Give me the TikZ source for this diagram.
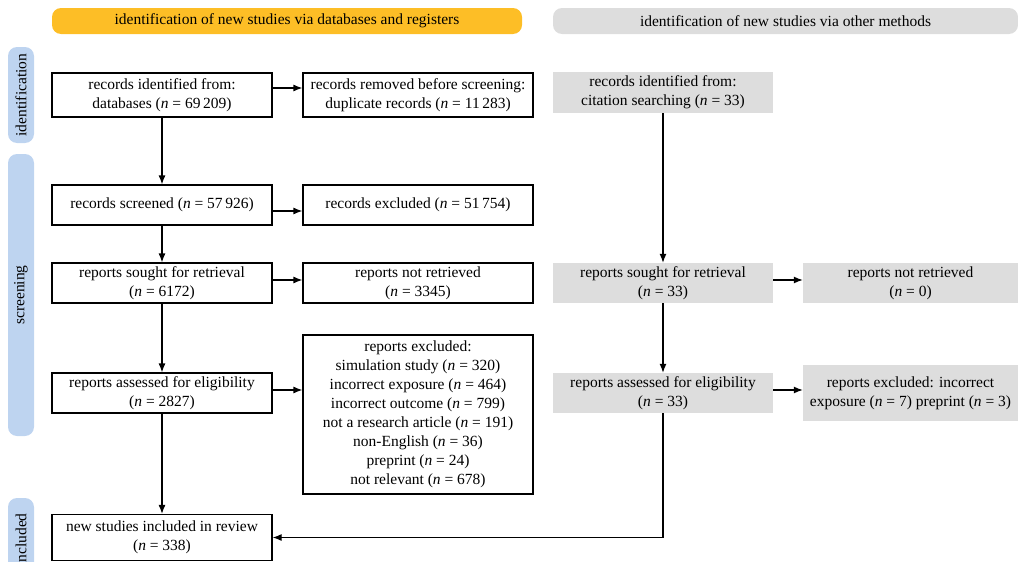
\documentclass[tikz,border=0pt]{standalone}
\usepackage{fontspec}
\setmainfont{Liberation Serif}
\usepackage{tikz}
\usetikzlibrary{arrows.meta}
\definecolor{dbyellow}{RGB}{253,190,38}
\definecolor{othgrey}{RGB}{221,221,221}
\definecolor{sideblue}{RGB}{190,212,240}
\newcommand{\nval}[1]{(\textit{n} = #1)}

\begin{document}
\begin{tikzpicture}[x=1pt, y=-1pt, font=\fontsize{15.5}{19}\selectfont,
  box/.style={draw, line width=1.2pt, align=center, inner sep=0pt},
  gbox/.style={fill=othgrey, align=center, inner sep=0pt},
  banner/.style={rounded corners=9pt, minimum height=26, inner sep=0pt},
  sidebar/.style={fill=sideblue, rounded corners=9pt, rotate=90, minimum height=26, inner sep=0pt},
  arr/.style={-{Latex[length=9pt, width=7pt]}, line width=1.2pt}]
  \useasboundingbox (0,0) rectangle (1018,562);
  % headers and phases
  \node[banner, fill=dbyellow, minimum width=470] (dbhead) at (287,21) {identification of new studies via databases and registers};
  \node[banner, fill=othgrey, minimum width=465] (othhead) at (785.5,21) {identification of new studies via other methods};
  \node[sidebar, minimum width=96] (idbar) at (21,95) {identification};
  \node[sidebar, minimum width=282] (scrbar) at (21,295) {screening};
  \node[sidebar, minimum width=84] (incbar) at (21,540) {included};
  % databases and registers
  \node[box, minimum width=220, minimum height=44] (recid) at (162,95) {records identified from:\\ databases \nval{69\,209}};
  \node[box, minimum width=230, minimum height=44] (dupl) at (418,95) {records removed before screening:\\ duplicate records \nval{11\,283}};
  \node[box, minimum width=220, minimum height=40] (screened) at (162,205) {records screened \nval{57\,926}};
  \node[box, minimum width=230, minimum height=40] (recexcl) at (418,205) {records excluded \nval{51\,754}};
  \node[box, minimum width=220, minimum height=40] (sought) at (162,283) {reports sought for retrieval\\ \nval{6172}};
  \node[box, minimum width=230, minimum height=40] (notretr) at (418,283) {reports not retrieved\\ \nval{3345}};
  \node[box, minimum width=220, minimum height=40] (assessed) at (162,393) {reports assessed for eligibility\\ \nval{2827}};
  \node[box, minimum width=230, minimum height=159] (repexcl) at (418,414.5) {reports excluded:\\ simulation study \nval{320}\\ incorrect exposure \nval{464}\\ incorrect outcome \nval{799}\\ not a research article \nval{191}\\ non-English \nval{36}\\ preprint \nval{24}\\ not relevant \nval{678}};
  \node[box, minimum width=220, minimum height=46] (included) at (162,537.5) {new studies included in review\\ \nval{338}};
  % other methods
  \node[gbox, minimum width=220, minimum height=41] (citid) at (663,92.5) {records identified from:\\ citation searching \nval{33}};
  \node[gbox, minimum width=220, minimum height=40] (gsought) at (663,283) {reports sought for retrieval\\ \nval{33}};
  \node[gbox, minimum width=215, minimum height=40] (gnotretr) at (910.5,283) {reports not retrieved\\ \nval{0}};
  \node[gbox, minimum width=220, minimum height=40] (gassessed) at (663,393) {reports assessed for eligibility\\ \nval{33}};
  \node[gbox, minimum width=215, minimum height=56] (gexcl) at (910.5,393) {reports excluded: incorrect\\ exposure \nval{7} preprint \nval{3}};
  % arrows
  \draw[arr] ([yshift=7pt]recid.east) -- ([yshift=7pt]recid.east -| dupl.west);
  \draw[arr] (recid) -- (screened);
  \draw[arr] ([yshift=-6pt]screened.east) -- ([yshift=-6pt]screened.east -| recexcl.west);
  \draw[arr] (screened) -- (sought);
  \draw[arr] ([yshift=3pt]sought.east) -- ([yshift=3pt]sought.east -| notretr.west);
  \draw[arr] (sought) -- (assessed);
  \draw[arr] ([yshift=3pt]assessed.east) -- ([yshift=3pt]assessed.east -| repexcl.west);
  \draw[arr] (assessed) -- (included);
  \draw[arr] (citid) -- (gsought);
  \draw[arr] ([yshift=3pt]gsought.east) -- ([yshift=3pt]gsought.east -| gnotretr.west);
  \draw[arr] (gsought) -- (gassessed);
  \draw[arr] ([yshift=3pt]gassessed.east) -- ([yshift=3pt]gassessed.east -| gexcl.west);
  \draw[arr] (gassessed.south) |- (included.east);
\end{tikzpicture}
\end{document}
